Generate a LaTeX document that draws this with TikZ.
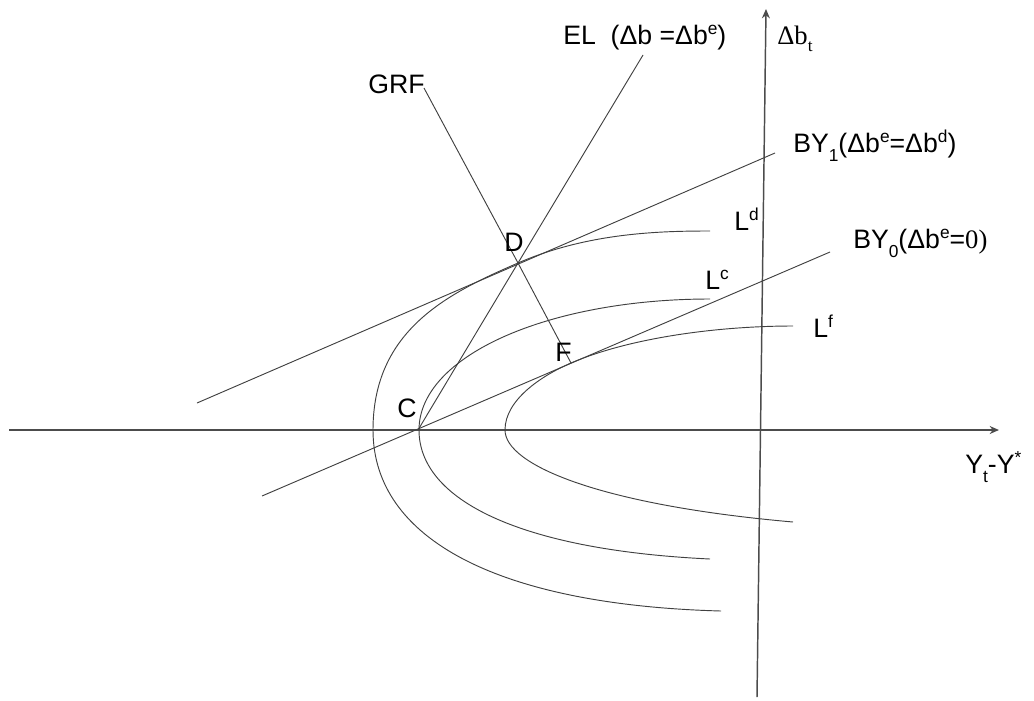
\documentclass[tikz,border=0pt]{standalone}
\usepackage{fontspec}
\setmainfont{Liberation Sans}
\newfontfamily\seriff{Liberation Serif}
\usetikzlibrary{arrows.meta}
\newcommand\mysup[1]{\raisebox{0.7ex}{\fontsize{13}{13}\selectfont #1}}
\newcommand\mysub[1]{\raisebox{-0.65ex}{\fontsize{13}{13}\selectfont #1}}
\begin{document}
\begin{tikzpicture}[x=0.75pt,y=-0.75pt,
  axis/.style={draw=black!70, line width=1.1pt, -{Stealth[length=7pt,width=6pt]}},
  ln/.style={draw=black!75, line width=0.7pt},
  lbl/.style={inner sep=0pt, anchor=base west, font=\fontsize{20}{24}\selectfont}]
\useasboundingbox (0,0) rectangle (1034,700);
% key points
\coordinate (C) at (418,430);
\coordinate (D) at (518,263);
\coordinate (F) at (571,363);
\coordinate (ELtop) at (643,55);
\coordinate (GRFtop) at (424,88);
\coordinate (BYoneA) at (197,403);
\coordinate (BYoneB) at (775,153);
\coordinate (BYzeroA) at (262,496);
\coordinate (BYzeroB) at (830,252);
\coordinate (Xa) at (9,430);
\coordinate (Xb) at (999,430);
\coordinate (Ya) at (757,697);
\coordinate (Yb) at (766,9);
% axes
\draw[axis] (Xa) -- (Xb);
\draw[axis] (Ya) -- (Yb);
% lines
\draw[ln] (C) -- (D) -- (ELtop);
\draw[ln] (GRFtop) -- (D) -- (F);
\draw[ln] (BYoneA) -- (BYoneB);
\draw[ln] (BYzeroA) -- (BYzeroB);
% L^d
\draw[ln] (710,231) .. controls (660,231) and (588,232.7) .. (D)
  .. controls (448,293.3) and (373,330) .. (373,430)
  .. controls (373,540) and (500,605) .. (721,611);
% L^c
\draw[ln] (710,299) .. controls (550,299) and (419,355) .. (419,430)
  .. controls (419,500) and (520,550) .. (710,559);
% L^f
\draw[ln] (793,326) .. controls (720,326) and (631,337.2) .. (F)
  .. controls (541,375.9) and (505,400) .. (505,430)
  .. controls (505,465) and (600,505) .. (793,522);
% labels
\node[lbl] (ELlab) at (563,44) {EL\ \ (Δb =Δb\mysup{e})};
\node[lbl] (dblab) at (777,44) {\seriff Δb\mysub{t}};
\node[lbl] (GRFlab) at (368,93) {GRF};
\node[lbl] (BYonelab) at (793,152) {BY\mysub{1}(Δb\mysup{e}=Δb\mysup{d})};
\node[lbl] (BYzerolab) at (853,248) {BY\mysub{0}(Δb\mysup{e}={\seriff 0)}};
\node[lbl] (Ldlab) at (734,230) {L\mysup{d}};
\node[lbl] (Lclab) at (705,289) {L\mysup{c}};
\node[lbl] (Lflab) at (813,337) {L\mysup{f}};
\node[lbl] (Dlab) at (504,251) {D};
\node[lbl] (Flab) at (555,361) {F};
\node[lbl] (Clab) at (397,417) {C};
\node[lbl] (Ylab) at (965,473) {Y\mysub{t}-Y\mysup{*}};
\end{tikzpicture}
\end{document}
